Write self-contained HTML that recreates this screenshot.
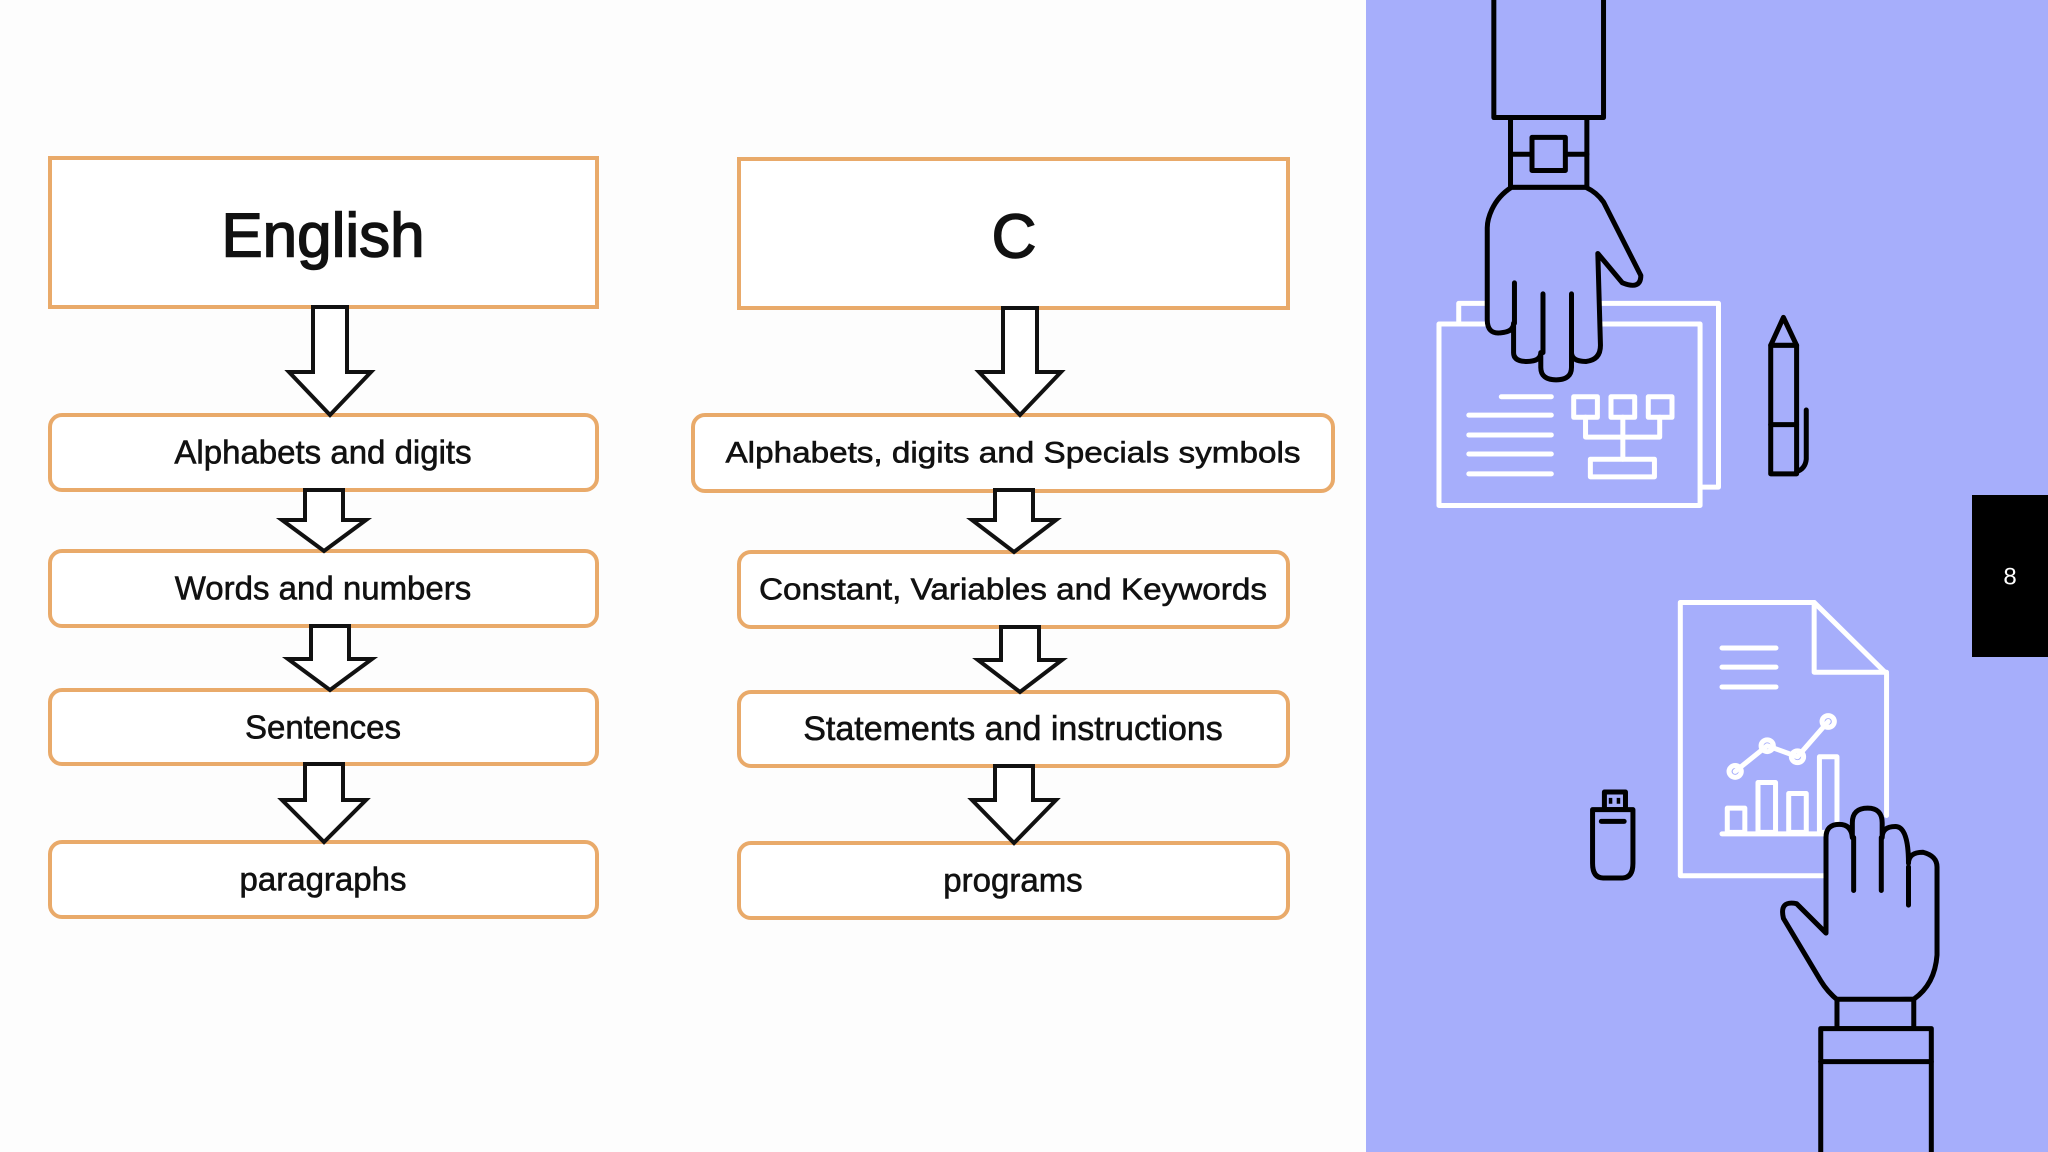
<!DOCTYPE html>
<html><head><meta charset="utf-8"><style>html,body{margin:0;padding:0;background:#fff}svg{display:block}.ic *{vector-effect:non-scaling-stroke}</style></head>
<body>
<svg width="2048" height="1152" viewBox="0 0 2048 1152" xmlns="http://www.w3.org/2000/svg">
<rect width="2048" height="1152" fill="#fdfdfd"/>
<g fill="#fff" stroke="#e9aa6a" stroke-width="4">
<rect x="50" y="158" width="547" height="149"/>
<rect x="739" y="159" width="549" height="149"/>
<rect x="50" y="415" width="547" height="75" rx="12"/>
<rect x="50" y="551" width="547" height="75" rx="12"/>
<rect x="50" y="690" width="547" height="74" rx="12"/>
<rect x="50" y="842" width="547" height="75" rx="12"/>
<rect x="693" y="415" width="640" height="76" rx="12"/>
<rect x="739" y="552" width="549" height="75" rx="12"/>
<rect x="739" y="692" width="549" height="74" rx="12"/>
<rect x="739" y="843" width="549" height="75" rx="12"/>
</g>
<g fill="#fff" stroke="#111" stroke-width="4" stroke-linejoin="miter">
<path d="M313,307 H347 V372 H371 L330,415 L289,372 H313 Z"/>
<path d="M305,490 H343 V520 H366 L324,551 L282,520 H305 Z"/>
<path d="M311,626 H349 V659 H372 L330,690 L288,659 H311 Z"/>
<path d="M305,764 H343 V800 H366 L324,842 L282,800 H305 Z"/>
<path d="M1003,308 H1037 V372 H1061 L1020,415 L979,372 H1003 Z"/>
<path d="M995,490 H1033 V520 H1056 L1014,552 L972,520 H995 Z"/>
<path d="M1001,627 H1039 V660 H1062 L1020,692 L978,660 H1001 Z"/>
<path d="M995,766 H1033 V800 H1056 L1014,843 L972,800 H995 Z"/>
</g>
<g font-family="Liberation Sans, sans-serif" fill="#111" stroke="#111" stroke-width="0.6" text-anchor="middle" dominant-baseline="central">
<text x="323" y="236" font-size="62" stroke-width="1.5">English</text>
<text x="1014" y="237" font-size="62" stroke-width="1.5">C</text>
<g font-size="33">
<text x="323" y="452">Alphabets and digits</text>
<text x="323" y="588">Words and numbers</text>
<text x="323" y="727">Sentences</text>
<text x="323" y="879">paragraphs</text>
<text x="1013" y="453" font-size="30" textLength="575" lengthAdjust="spacingAndGlyphs">Alphabets, digits and Specials symbols</text>
<text x="1013" y="589" font-size="31" textLength="508" lengthAdjust="spacingAndGlyphs">Constant, Variables and Keywords</text>
<text x="1013" y="729" font-size="34">Statements and instructions</text>
<text x="1013" y="880">programs</text>
</g>
</g>
<rect x="1366" y="0" width="682" height="1152" fill="#a6aefb"/>
<rect x="1972" y="495" width="76" height="162" fill="#000"/>
<text x="2010" y="577" font-family="Liberation Sans, sans-serif" font-size="24" fill="#fff" text-anchor="middle" dominant-baseline="central">8</text>
<g class="ic" transform="translate(1360,0) scale(0.4388,0.7347)" stroke-linecap="round" stroke-linejoin="round">
<g fill="none" stroke="#fff" stroke-width="5">
<path d="M225,440 L225,413 L817,413 L817,663 L775,663"/>
<rect x="180" y="441" width="595" height="247" fill="#a6aefb"/>
<path d="M322,540 H436 M248,565 H436 M248,592 H436 M248,618 H436 M248,645 H436"/>
<rect x="487" y="540" width="54" height="28"/><rect x="572" y="540" width="54" height="28"/><rect x="657" y="540" width="54" height="28"/>
<path d="M514,568 V595 H683 V568 M599,568 V625"/>
<rect x="525" y="625" width="146" height="24"/>
</g>
<g fill="#a6aefb" stroke="#000" stroke-width="5">
<rect x="305" y="-20" width="250" height="180"/>
<rect x="343" y="160" width="174" height="95"/>
<path d="M343,210 H517"/>
<rect x="392" y="187" width="76" height="45"/>
<path d="M345,255 C300,272 290,300 290,310 L290,435 Q290,455 320,453 Q350,452 350,440 L350,480 Q350,492 380,492 Q412,492 412,480 L412,500 Q412,517 447,517 Q482,517 482,500 L482,480 Q482,492 515,492 Q548,490 548,470 L542,345 L598,385 Q640,395 640,375 L555,275 Q540,262 515,255 Z"/>
<path d="M352,385 V440 M417,400 V480 M482,400 V480" fill="none"/>
</g>
<g fill="#a6aefb" stroke="#000" stroke-width="5">
<rect x="936" y="470" width="59" height="175"/>
<path d="M936,470 L965,432 L995,470 Z M936,578 H995"/>
<path d="M1017,558 V625 Q1015,638 995,642" fill="none"/>
</g>
<g fill="none" stroke="#fff" stroke-width="5">
<path d="M1060,1192 H730 V820 H1035 L1200,917 V1110" />
<path d="M1035,820 V915 H1200"/>
<path d="M825,882 H948 M825,908 H948 M825,935 H948"/>
<polyline points="855,1050 928,1015 997,1030 1067,982"/>
<ellipse cx="855" cy="1050" rx="14" ry="8"/><ellipse cx="928" cy="1015" rx="14" ry="8"/><ellipse cx="997" cy="1030" rx="14" ry="8"/><ellipse cx="1067" cy="982" rx="14" ry="8"/>
<rect x="837" y="1100" width="40" height="33"/><rect x="907" y="1065" width="40" height="68"/><rect x="977" y="1080" width="40" height="53"/><rect x="1047" y="1030" width="40" height="103"/>
<path d="M825,1135 H1060"/>
</g>
<g fill="#a6aefb" stroke="#000" stroke-width="5">
<rect x="557" y="1078" width="48" height="24"/>
<path d="M530,1102 H622 V1175 Q622,1195 598,1195 H554 Q530,1195 530,1175 Z"/>
<path d="M550,1118 H602" fill="none"/>
</g>
<rect x="567" y="1086" width="8" height="8" fill="#000"/><rect x="585" y="1086" width="8" height="8" fill="#000"/>
<g fill="#a6aefb" stroke="#000" stroke-width="5">
<path d="M1090,1362 Q1065,1350 1050,1335 L965,1250 Q955,1225 995,1230 L1062,1270 L1062,1140 Q1062,1122 1092,1122 Q1120,1122 1122,1140 L1122,1120 Q1122,1100 1157,1100 Q1190,1100 1190,1120 L1190,1140 Q1190,1125 1220,1125 Q1250,1125 1250,1175 Q1250,1160 1283,1160 Q1315,1165 1315,1180 L1315,1300 Q1310,1340 1262,1360 Z"/>
<path d="M1125,1140 V1212 M1188,1140 V1212 M1250,1180 V1232" fill="none"/>
<rect x="1087" y="1360" width="175" height="40"/>
<rect x="1050" y="1400" width="252" height="200"/>
<path d="M1050,1445 H1302"/>
</g>
</g>
</svg>
</body></html>
